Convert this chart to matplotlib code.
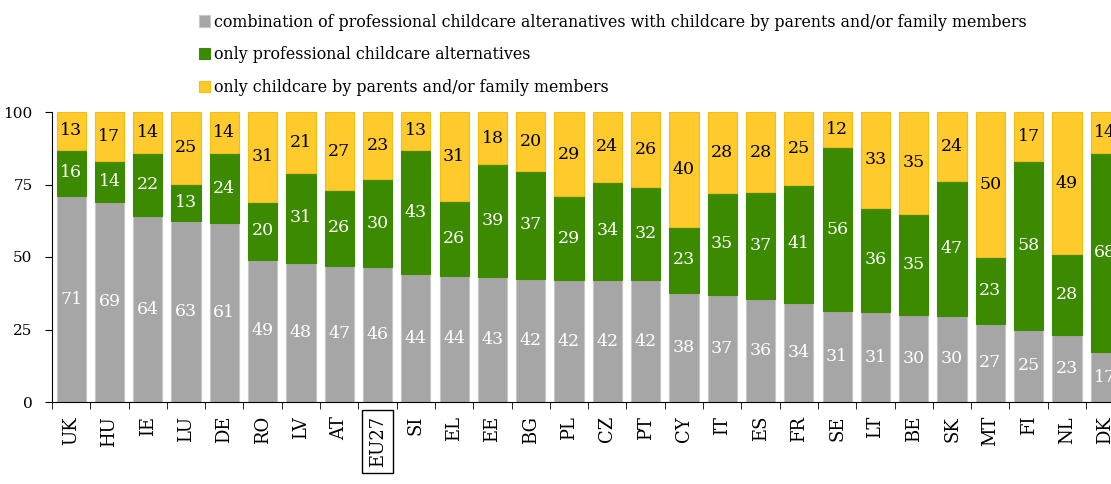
import numpy as np
import matplotlib.pyplot as plt

countries = ["UK", "HU", "IE", "LU", "DE", "RO", "LV", "AT", "EU27", "SI", "EL", "EE", "BG", "PL",
             "CZ", "PT", "CY", "IT", "ES", "FR", "SE", "LT", "BE", "SK", "MT", "FI", "NL", "DK"]
combination = [71, 69, 64, 63, 61, 49, 48, 47, 46, 44, 44, 43, 42, 42,
               42, 42, 38, 37, 36, 34, 31, 31, 30, 30, 27, 25, 23, 17]
professional = [16, 14, 22, 13, 24, 20, 31, 26, 30, 43, 26, 39, 37, 29,
                34, 32, 23, 35, 37, 41, 56, 36, 35, 47, 23, 58, 28, 68]
family = [13, 17, 14, 25, 14, 31, 21, 27, 23, 13, 31, 18, 20, 29,
          24, 26, 40, 28, 28, 25, 12, 33, 35, 24, 50, 17, 49, 14]

labels = ["combination of professional childcare alteranatives with childcare by parents and/or family members",
          "only professional childcare alternatives",
          "only childcare by parents and/or family members"]
colors = ["#A6A6A6", "#3B8A00", "#FFCA2C"]
edges = ["#C8C8C8", "#3B8A00", "#F2BE10"]

plt.rcParams['font.family'] = ['DejaVu Serif']

fig = plt.figure(figsize=(11.11, 4.84), dpi=100)
ax = fig.add_axes([52 / 1111, 82 / 484, 28 * 38.3 / 1111, 290 / 484])

x = np.arange(len(countries))
comb = np.array(combination, dtype=float)
prof = np.array(professional, dtype=float)
fam = np.array(family, dtype=float)
# rounded shares do not always add to 100, so scale each bar to 100%
tot = comb + prof + fam
c_s = comb / tot * 100
p_s = prof / tot * 100
f_s = fam / tot * 100

b1 = ax.bar(x, c_s, width=0.76, color=colors[0], edgecolor=edges[0], linewidth=0.8, label=labels[0])
b2 = ax.bar(x, p_s, bottom=c_s, width=0.76, color=colors[1], edgecolor=edges[1], linewidth=0.8, label=labels[1])
b3 = ax.bar(x, f_s, bottom=c_s + p_s, width=0.76, color=colors[2], edgecolor=edges[2], linewidth=0.8, label=labels[2])

for i in range(len(x)):
    ax.text(x[i], c_s[i] / 2, combination[i], ha='center', va='center', color='white', fontsize=12.5)
    ax.text(x[i], c_s[i] + p_s[i] / 2, professional[i], ha='center', va='center', color='white', fontsize=12.5)
    ax.text(x[i], c_s[i] + p_s[i] + f_s[i] / 2, family[i], ha='center', va='center', color='black',
            fontsize=12.5)

ax.set_xlim(-0.5, len(x) - 0.5)
ax.set_ylim(0, 100)
ax.set_yticks([0, 25, 50, 75, 100])
ax.tick_params(axis='y', labelsize=11, length=5, pad=9)

ax.set_xticks(x)
ax.set_xticklabels(countries, rotation=90, fontsize=13)
ax.set_xticks(np.arange(len(x) + 1) - 0.5, minor=True)
ax.tick_params(axis='x', which='major', length=0, pad=10)
ax.tick_params(axis='x', which='minor', length=5)
for t in ax.get_xticklabels():
    if t.get_text() == "EU27":
        t.set_bbox(dict(boxstyle='square,pad=0.35', fc='none', ec='black', lw=1))

for s in ['top', 'right']:
    ax.spines[s].set_visible(False)

fig.legend(handles=[b1, b2, b3], labels=labels, loc='upper left', bbox_to_anchor=(188 / 1111, 0.995),
           frameon=False, fontsize=11.4, handlelength=0.7, handleheight=0.7, handletextpad=0.25,
           labelspacing=1.0, borderaxespad=0.3)

fig.savefig("out.png", dpi=100)
